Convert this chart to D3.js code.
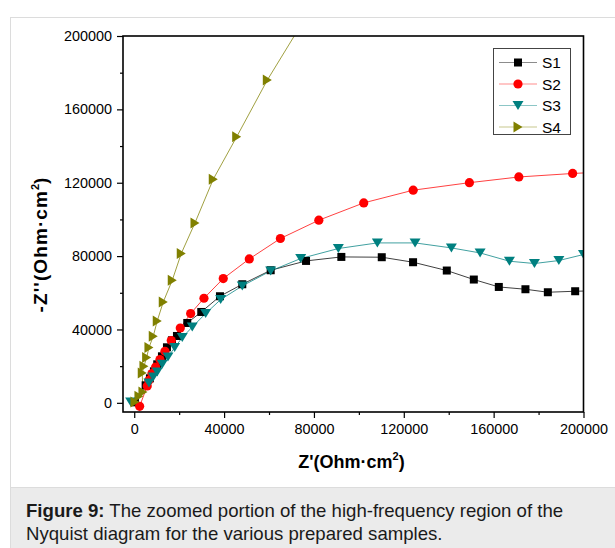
<!DOCTYPE html>
<html><head><meta charset="utf-8">
<script src="https://cdn.jsdelivr.net/npm/d3@7"></script>
<style>
body{margin:0;background:#fff;}
svg{display:block;font-family:"Liberation Sans",Arial,Helvetica,sans-serif;}
</style>
</head><body>
<svg id="c" width="615" height="548"></svg>
<script>
// ---- data ----
const seriesNames = ["S1", "S2", "S3", "S4"];
const seriesColors = ["#000000", "#ff0000", "#008080", "#808000"];

const s1X = [300, 5080, 6990, 8770, 10240, 12340, 14570, 16790, 19020, 23610, 29840, 38170, 48100, 60750, 76480, 92200, 110190, 124130, 139140, 151170, 162300, 174150, 184130, 196290, 207430];
const s1Y = [270, 9550, 13370, 17190, 21010, 25370, 30280, 34100, 36450, 43540, 49540, 58110, 64650, 72290, 77370, 79550, 79390, 76660, 72130, 67220, 63180, 61930, 60290, 60840, 61110];

const s2X = [2400, 5790, 6550, 7880, 9530, 11450, 13670, 16480, 20490, 25120, 31040, 39640, 51220, 65070, 82180, 102170, 124180, 149210, 171210, 195170, 211880];
const s2Y = [-1900, 9170, 12280, 15930, 19530, 23570, 28100, 33940, 40810, 48670, 57020, 67760, 78460, 89590, 99570, 109010, 115940, 120030, 123140, 125050, 126030];

const s3X = [-1600, 6550, 8460, 10240, 12470, 15010, 17990, 21380, 25830, 31800, 38480, 48100, 60750, 74110, 90860, 108230, 125020, 141190, 153970, 167030, 178160, 189030, 199990];
const s3Y = [440, 10800, 14080, 16800, 21010, 24990, 30120, 35570, 41360, 48670, 56310, 63730, 71910, 78680, 84130, 87190, 87190, 84460, 81730, 77200, 75950, 77580, 80860];

const s4X = [310, 2090, 3870, 3560, 4320, 5520, 6550, 8460, 10240, 12920, 16930, 20930, 27040, 35190, 45610, 59240, 75580];
const s4Y = [440, 3550, 5890, 16260, 19910, 24660, 30120, 36280, 44630, 55000, 66840, 81400, 98100, 121940, 145020, 175960, 208700];

const xTickValues = [0, 40000, 80000, 120000, 160000, 200000];
const xMinorTicks = [20000, 60000, 100000, 140000, 180000];
const yTickValues = [0, 40000, 80000, 120000, 160000, 200000];
const yMinorTicks = [20000, 60000, 100000, 140000, 180000];

const xTitle = "Z'(Ohm·cm";
const yTitle = "-Z''(Ohm·cm";
const captionBold = "Figure 9:";
const captionLine1 = " The zoomed portion of the high-frequency region of the";
const captionLine2 = "Nyquist diagram for the various prepared samples.";

// ---- layout ----
const svg = d3.select("#c");
const L = 123, R = 583.5, T = 36, B = 412;

// outer panel and caption band
svg.append("rect").attr("x", 10.5).attr("y", 17.5).attr("width", 620).attr("height", 540)
  .attr("fill", "#fff").attr("stroke", "#dcdcdc");
svg.append("rect").attr("x", 10.5).attr("y", 487.5).attr("width", 620).attr("height", 70)
  .attr("fill", "#ebebeb").attr("stroke", "#dcdcdc");

const x = d3.scaleLinear().domain([-5000, 200000]).range([L, R]);
const y = d3.scaleLinear().domain([-5000, 200000]).range([B, T]);

svg.append("defs").append("clipPath").attr("id", "clip")
  .append("rect").attr("x", L).attr("y", T).attr("width", R - L).attr("height", B - T);

// axes
const fmt = d3.format("d");
const gx = svg.append("g").attr("transform", `translate(0,${B})`)
  .call(d3.axisBottom(x).tickValues(xTickValues).tickFormat(fmt).tickSize(6).tickSizeOuter(0).tickPadding(6));
const gxm = svg.append("g").attr("transform", `translate(0,${B})`)
  .call(d3.axisBottom(x).tickValues(xMinorTicks).tickFormat("").tickSize(3).tickSizeOuter(0));
const gy = svg.append("g").attr("transform", `translate(${L},0)`)
  .call(d3.axisLeft(y).tickValues(yTickValues).tickFormat(fmt).tickSize(6).tickSizeOuter(0).tickPadding(5));
const gym = svg.append("g").attr("transform", `translate(${L},0)`)
  .call(d3.axisLeft(y).tickValues(yMinorTicks).tickFormat("").tickSize(3).tickSizeOuter(0));
[gx, gxm, gy, gym].forEach(g => {
  g.selectAll("text").attr("font-size", 14.4).attr("fill", "#000")
    .attr("font-family", "'Liberation Sans',Arial,sans-serif");
  g.selectAll("line").attr("stroke", "#000").attr("stroke-width", 1.2);
  g.select(".domain").remove();
});

// data lines and markers
const line = d3.line().x(d => x(d[0])).y(d => y(d[1]));
const series = [
  {name: "S1", xs: s1X, ys: s1Y},
  {name: "S2", xs: s2X, ys: s2Y},
  {name: "S3", xs: s3X, ys: s3Y},
  {name: "S4", xs: s4X, ys: s4Y}
];
const plot = svg.append("g").attr("clip-path", "url(#clip)");

function marker(sel, name, color) {
  if (name === "S1") {
    sel.append("rect").attr("x", -4).attr("y", -4).attr("width", 8).attr("height", 8).attr("fill", color);
  } else if (name === "S2") {
    sel.append("circle").attr("r", 4.6).attr("fill", color);
  } else if (name === "S3") {
    sel.append("path").attr("d", "M-5.5,-4.5L5.5,-4.5L0,4.5Z").attr("fill", color);
  } else {
    sel.append("path").attr("d", "M-4.5,-5.5L4.5,0L-4.5,5.5Z").attr("fill", color);
  }
}

series.forEach((s, i) => {
  const pts = s.xs.map((v, k) => [v, s.ys[k]]);
  plot.append("path").datum(pts).attr("d", line).attr("fill", "none")
    .attr("stroke", seriesColors[i]).attr("stroke-width", 1).attr("stroke-opacity", 0.75);
});
series.forEach((s, i) => {
  const pts = s.xs.map((v, k) => [v, s.ys[k]]);
  const g = plot.append("g");
  pts.forEach(p => {
    const m = g.append("g").attr("transform", `translate(${x(p[0])},${y(p[1])})`);
    marker(m, s.name, seriesColors[i]);
  });
});

// frame
svg.append("rect").attr("x", L).attr("y", T).attr("width", R - L).attr("height", B - T)
  .attr("fill", "none").attr("stroke", "#000").attr("stroke-width", 1.6);

// legend
const lg = svg.append("g");
lg.append("rect").attr("x", 493.5).attr("y", 48.5).attr("width", 77).attr("height", 86)
  .attr("fill", "#fff").attr("stroke", "#444").attr("stroke-width", 1);
seriesNames.forEach((n, i) => {
  const yy = 62.5 + i * 21.5;
  lg.append("line").attr("x1", 499).attr("x2", 537).attr("y1", yy).attr("y2", yy)
    .attr("stroke", seriesColors[i]).attr("stroke-width", 1).attr("stroke-opacity", 0.45);
  const m = lg.append("g").attr("transform", `translate(518,${yy})`);
  marker(m, n, seriesColors[i]);
  lg.append("text").attr("x", 542).attr("y", yy + 5.5).attr("font-size", 15.5).attr("fill", "#000").text(n);
});

// axis titles
const xt = svg.append("text").attr("x", 351.5).attr("y", 468).attr("text-anchor", "middle")
  .attr("font-size", 18).attr("font-weight", "bold").attr("fill", "#000");
xt.append("tspan").text(xTitle);
xt.append("tspan").attr("font-size", 11).attr("dy", -8).text("2");
xt.append("tspan").attr("dy", 8).text(")");

const yt = svg.append("text").attr("transform", "translate(46.5,245) rotate(-90)").attr("text-anchor", "middle")
  .attr("font-size", 19).attr("font-weight", "bold").attr("fill", "#000");
yt.append("tspan").attr("letter-spacing", 1.1).text(yTitle);
yt.append("tspan").attr("font-size", 11).attr("dy", -8).text("2");
yt.append("tspan").attr("dy", 8).text(")");

// caption
const cap = svg.append("g").attr("fill", "#1a1a1a");
const c1 = cap.append("text").attr("x", 26).attr("y", 517).attr("font-size", 18.6);
c1.append("tspan").attr("font-weight", "bold").text(captionBold);
c1.append("tspan").text(captionLine1);
cap.append("text").attr("x", 26).attr("y", 540).attr("font-size", 18.6).text(captionLine2);
</script>
</body></html>
